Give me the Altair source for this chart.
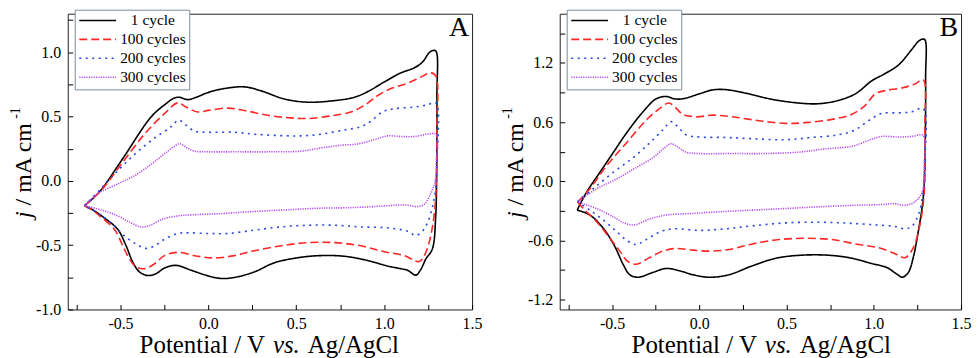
import altair as alt
import pandas as pd

SERIF = "Liberation Serif"
SERIES = ["1 cycle", "100 cycles", "200 cycles", "300 cycles"]
COLORS = ["#000000", "#ff2626", "#2a46e6", "#b54cf2"]
DASHES = [[1, 0], [8, 4], [2, 4.5], [1.2, 1.2]]
PANEL_LABELS = ["A", "B"]
X_TITLE = ["Potential / V", "vs.", "Ag/AgCl"]
Y_TITLE = ["j", "/ mA cm", "-1"]
X_TICKS = [-0.75, -0.5, -0.25, 0.0, 0.25, 0.5, 0.75, 1.0, 1.25, 1.5]
YA_TICKS = [-1.0, -0.75, -0.5, -0.25, 0.0, 0.25, 0.5, 0.75, 1.0, 1.25]
YB_TICKS = [-1.2, -0.9, -0.6, -0.3, 0.0, 0.3, 0.6, 0.9, 1.2, 1.5]

# ---------------- Panel A ----------------
A1_x = [-0.705, -0.62, -0.496, -0.326, -0.25, -0.193, -0.165, -0.117, -0.07, 0.0, 0.091, 0.205, 0.3, 0.432, 0.564, 0.716, 0.83, 0.905, 1.0, 1.095, 1.17, 1.218, 1.256, 1.275, 1.294,
        1.300, 1.298, 1.293, 1.274, 1.237, 1.208, 1.18,
        1.133, 1.095, 1.019, 0.905, 0.773, 0.64, 0.527, 0.375, 0.261, 0.148, 0.072, 0.0, -0.098, -0.184, -0.25, -0.297, -0.345, -0.392, -0.43, -0.468, -0.515, -0.591, -0.657, -0.705]
A1_y = [-0.193, -0.086, 0.155, 0.497, 0.591, 0.645, 0.65, 0.632, 0.65, 0.688, 0.718, 0.731, 0.70, 0.637, 0.612, 0.624, 0.65, 0.693, 0.769, 0.84, 0.878, 0.924, 0.997, 1.013, 1.01,
        0.66, 0.0, -0.277, -0.53, -0.607, -0.69, -0.733,
        -0.695, -0.683, -0.662, -0.619, -0.586, -0.581, -0.594, -0.637, -0.708, -0.751, -0.759, -0.739, -0.695, -0.657, -0.678, -0.721, -0.736, -0.708, -0.632, -0.505, -0.378, -0.289, -0.226, -0.193]

A100_x = [-0.705, -0.61, -0.496, -0.364, -0.25, -0.174, -0.127, -0.06, 0.0, 0.11, 0.205, 0.337, 0.47, 0.564, 0.697, 0.81, 0.886, 0.962, 1.038, 1.133, 1.208, 1.265, 1.294,
          1.3, 1.294, 1.275, 1.237, 1.199,
          1.114, 1.0, 0.867, 0.716, 0.564, 0.413, 0.261, 0.148, 0.034, -0.06, -0.174, -0.25, -0.307, -0.364, -0.411, -0.449, -0.487, -0.534, -0.61, -0.667, -0.705]
A100_y = [-0.193, -0.074, 0.129, 0.363, 0.523, 0.607, 0.574, 0.536, 0.548, 0.566, 0.548, 0.51, 0.49, 0.485, 0.505, 0.536, 0.586, 0.662, 0.718, 0.759, 0.807, 0.84, 0.815,
          0.41, -0.1, -0.353, -0.556, -0.627,
          -0.581, -0.551, -0.505, -0.48, -0.48, -0.505, -0.543, -0.581, -0.599, -0.586, -0.556, -0.581, -0.645, -0.683, -0.67, -0.607, -0.505, -0.378, -0.282, -0.221, -0.193]

A200_x = [-0.705, -0.62, -0.534, -0.42, -0.307, -0.212, -0.169, -0.127, -0.08, 0.0, 0.148, 0.261, 0.394, 0.527, 0.64, 0.773, 0.867, 0.924, 0.99, 1.057, 1.17, 1.246, 1.294,
          1.3, 1.294, 1.275, 1.246, 1.218, 1.18,
          1.133, 1.019, 0.867, 0.716, 0.564, 0.413, 0.261, 0.11, 0.0, -0.117, -0.174, -0.25, -0.307, -0.354, -0.411, -0.477, -0.553, -0.629, -0.705]
A200_y = [-0.193, -0.074, 0.053, 0.206, 0.332, 0.421, 0.472, 0.434, 0.388, 0.378, 0.378, 0.363, 0.353, 0.35, 0.363, 0.396, 0.421, 0.464, 0.536, 0.561, 0.574, 0.591, 0.607,
          0.155, -0.048, -0.2, -0.327, -0.391, -0.424,
          -0.391, -0.365, -0.358, -0.345, -0.345, -0.358, -0.383, -0.409, -0.409, -0.404, -0.409, -0.454, -0.505, -0.525, -0.492, -0.429, -0.327, -0.251, -0.193]

A300_x = [-0.705, -0.629, -0.515, -0.42, -0.326, -0.25, -0.193, -0.165, -0.127, -0.08, 0.0, 0.148, 0.337, 0.527, 0.64, 0.754, 0.848, 0.943, 1.019, 1.095, 1.17, 1.246, 1.294,
          1.297, 1.29, 1.264, 1.23, 1.19,
          1.133, 1.076, 1.0, 0.81, 0.621, 0.432, 0.242, 0.053, -0.098, -0.174, -0.269, -0.335, -0.383, -0.439, -0.515, -0.61, -0.705]
A300_y = [-0.193, -0.099, -0.023, 0.041, 0.129, 0.211, 0.269, 0.289, 0.261, 0.231, 0.226, 0.226, 0.226, 0.231, 0.256, 0.277, 0.287, 0.32, 0.35, 0.345, 0.345, 0.363, 0.363,
          0.155, 0.0, -0.1, -0.18, -0.2,
          -0.188, -0.188, -0.195, -0.208, -0.213, -0.226, -0.239, -0.256, -0.264, -0.272, -0.302, -0.348, -0.358, -0.327, -0.272, -0.226, -0.193]

# ---------------- Panel B ----------------
B1_x = [-0.70, -0.646, -0.57, -0.494, -0.418, -0.323, -0.247, -0.19, -0.143, -0.095, 0.0, 0.076, 0.152, 0.266, 0.418, 0.57, 0.684, 0.798, 0.894, 0.989, 1.065, 1.141, 1.217, 1.255, 1.278, 1.293,
        1.297, 1.293, 1.283, 1.255, 1.226, 1.198, 1.163,
        1.131, 1.074, 0.989, 0.856, 0.722, 0.57, 0.437, 0.304, 0.171, 0.057, -0.038, -0.114, -0.19, -0.266, -0.352, -0.399, -0.437, -0.485, -0.551, -0.627, -0.70]
B1_y = [-0.292, -0.11, 0.09, 0.289, 0.488, 0.704, 0.837, 0.86, 0.837, 0.837, 0.887, 0.927, 0.93, 0.894, 0.831, 0.794, 0.787, 0.821, 0.887, 1.02, 1.093, 1.179, 1.336, 1.419, 1.442, 1.435,
        1.053, 0.223, -0.176, -0.508, -0.774, -0.924, -0.973,
        -0.94, -0.874, -0.834, -0.774, -0.748, -0.751, -0.781, -0.857, -0.947, -0.973, -0.947, -0.907, -0.884, -0.924, -0.973, -0.947, -0.841, -0.658, -0.475, -0.342, -0.292]

B100_x = [-0.698, -0.627, -0.532, -0.418, -0.304, -0.228, -0.175, -0.14, -0.095, -0.019, 0.076, 0.19, 0.342, 0.494, 0.608, 0.76, 0.875, 0.951, 1.008, 1.065, 1.16, 1.236, 1.283,
          1.293, 1.289, 1.264, 1.226, 1.179,
          1.122, 1.027, 0.913, 0.76, 0.608, 0.456, 0.304, 0.171, 0.057, -0.038, -0.133, -0.209, -0.285, -0.361, -0.409, -0.456, -0.513, -0.589, -0.665, -0.698]
B100_y = [-0.209, -0.076, 0.156, 0.389, 0.621, 0.738, 0.794, 0.754, 0.681, 0.654, 0.671, 0.654, 0.615, 0.588, 0.595, 0.628, 0.681, 0.771, 0.887, 0.92, 0.947, 0.987, 1.03,
          0.555, -0.11, -0.442, -0.674, -0.774,
          -0.734, -0.674, -0.641, -0.591, -0.578, -0.591, -0.635, -0.691, -0.708, -0.698, -0.681, -0.708, -0.774, -0.841, -0.814, -0.708, -0.575, -0.409, -0.276, -0.209]

B200_x = [-0.698, -0.608, -0.494, -0.38, -0.285, -0.209, -0.162, -0.124, -0.076, 0.0, 0.152, 0.304, 0.494, 0.646, 0.798, 0.894, 0.97, 1.046, 1.141, 1.217, 1.283,
          1.293, 1.283, 1.255, 1.217, 1.179,
          1.122, 1.008, 0.856, 0.684, 0.494, 0.304, 0.152, 0.0, -0.152, -0.228, -0.304, -0.361, -0.409, -0.475, -0.551, -0.627, -0.698]
B200_y = [-0.209, -0.076, 0.09, 0.239, 0.389, 0.522, 0.605, 0.555, 0.472, 0.449, 0.445, 0.432, 0.422, 0.445, 0.472, 0.522, 0.615, 0.688, 0.694, 0.704, 0.738,
          0.223, -0.11, -0.342, -0.458, -0.482,
          -0.458, -0.442, -0.425, -0.415, -0.422, -0.452, -0.482, -0.498, -0.482, -0.515, -0.591, -0.641, -0.608, -0.508, -0.392, -0.292, -0.209]

B300_x = [-0.698, -0.589, -0.475, -0.361, -0.266, -0.2, -0.162, -0.124, -0.076, 0.0, 0.19, 0.38, 0.57, 0.722, 0.875, 0.97, 1.046, 1.141, 1.217, 1.283,
          1.289, 1.283, 1.255, 1.217, 1.169,
          1.122, 1.046, 0.894, 0.684, 0.494, 0.304, 0.114, -0.038, -0.19, -0.285, -0.371, -0.428, -0.494, -0.589, -0.698]
B300_y = [-0.209, -0.076, 0.023, 0.14, 0.239, 0.339, 0.382, 0.349, 0.296, 0.282, 0.282, 0.282, 0.296, 0.329, 0.355, 0.415, 0.455, 0.449, 0.455, 0.465,
          0.156, -0.076, -0.176, -0.226, -0.243,
          -0.226, -0.236, -0.243, -0.259, -0.276, -0.292, -0.309, -0.326, -0.342, -0.382, -0.442, -0.425, -0.359, -0.276, -0.209]


def build(curves):
    rows = []
    for name, xs, ys in curves:
        for i, (xv, yv) in enumerate(zip(xs, ys)):
            rows.append({"series": name, "idx": i, "x": xv, "y": yv})
    return pd.DataFrame(rows)


dfA = build([(SERIES[0], A1_x, A1_y), (SERIES[1], A100_x, A100_y),
             (SERIES[2], A200_x, A200_y), (SERIES[3], A300_x, A300_y)])
dfB = build([(SERIES[0], B1_x, B1_y), (SERIES[1], B100_x, B100_y),
             (SERIES[2], B200_x, B200_y), (SERIES[3], B300_x, B300_y)])


def lab_expr(mult):
    return ("abs(datum.value/%s - round(datum.value/%s)) < 0.001 ? "
            "(datum.value < -0.0001 ? '-' : '') + format(abs(datum.value), '.1f') : ''" % (mult, mult))


def panel(df, ydom, yticks, ymult, letter, W, H):
    legend = alt.Legend(
        title=None, orient="none", legendX=7, legendY=-4,
        fillColor="white", strokeColor="#7d8a99", padding=3,
        labelFont=SERIF, labelFontSize=15.5, labelColor="black",
        symbolType="M-1,0H5", symbolSize=152, symbolStrokeWidth=1.6,
        rowPadding=2, labelOffset=60, labelAlign="center",
    )
    xaxis = alt.Axis(values=X_TICKS, labelExpr=lab_expr(0.5), title=None, grid=False,
                     domain=False, tickSize=5, offset=-5, tickColor="black",
                     labelFont=SERIF, labelFontSize=16, labelColor="black",
                     labelPadding=6, labelFlush=False, labelOverlap=False)
    yaxis = alt.Axis(values=yticks, labelExpr=lab_expr(ymult), title=None, grid=False,
                     domain=False, tickSize=5, offset=-5, tickColor="black",
                     labelFont=SERIF, labelFontSize=16, labelColor="black",
                     labelPadding=7, labelFlush=False, labelOverlap=False)
    lines = alt.Chart(df).mark_line(strokeWidth=1.6, interpolate="catmull-rom").encode(
        x=alt.X("x:Q", scale=alt.Scale(domain=[-0.8, 1.5], nice=False, zero=False), axis=xaxis),
        y=alt.Y("y:Q", scale=alt.Scale(domain=ydom, nice=False, zero=False), axis=yaxis),
        color=alt.Color("series:N", scale=alt.Scale(domain=SERIES, range=COLORS), legend=legend),
        strokeDash=alt.StrokeDash("series:N", scale=alt.Scale(domain=SERIES, range=DASHES), legend=legend),
        order="idx:Q",
    )
    one = pd.DataFrame({"t": [letter]})
    letter_mark = alt.Chart(one).mark_text(
        text=letter, font=SERIF, fontSize=28, align="right", baseline="alphabetic", color="black"
    ).encode(x=alt.value(W - 3), y=alt.value(22))
    cy = H / 2.0
    P = cy + 50
    xt_base = H + 44
    xt1 = alt.Chart(one).mark_text(text=X_TITLE[0], font=SERIF, fontSize=25, align="right",
                                   baseline="alphabetic", color="black").encode(
        x=alt.value(198), y=alt.value(xt_base))
    xt2 = alt.Chart(one).mark_text(text=X_TITLE[1], font=SERIF, fontSize=25, fontStyle="italic",
                                   align="left", baseline="alphabetic", color="black").encode(
        x=alt.value(206), y=alt.value(xt_base))
    xt3 = alt.Chart(one).mark_text(text=X_TITLE[2], font=SERIF, fontSize=25, align="left",
                                   baseline="alphabetic", color="black").encode(
        x=alt.value(241), y=alt.value(xt_base))
    yt1 = alt.Chart(one).mark_text(text=Y_TITLE[0], font=SERIF, fontSize=24, fontStyle="italic",
                                   angle=270, align="right", baseline="alphabetic", color="black").encode(
        x=alt.value(-37), y=alt.value(P))
    yt2 = alt.Chart(one).mark_text(text=Y_TITLE[1], font=SERIF, fontSize=24,
                                   angle=270, align="left", baseline="alphabetic", color="black").encode(
        x=alt.value(-37), y=alt.value(P - 6))
    yt3 = alt.Chart(one).mark_text(text=Y_TITLE[2], font=SERIF, fontSize=14,
                                   angle=270, align="left", baseline="alphabetic", color="black").encode(
        x=alt.value(-48), y=alt.value(P - 93))
    return alt.layer(lines, letter_mark, xt1, xt2, xt3, yt1, yt2, yt3).properties(width=W, height=H)


H = 297
pA = panel(dfA, [-1.0, 1.3], YA_TICKS, 0.5, PANEL_LABELS[0], 406, H)
pB = panel(dfB, [-1.3, 1.7], YB_TICKS, 0.6, PANEL_LABELS[1], 403, H)

chart = (
    alt.hconcat(pA, pB, spacing=88, bounds="flush")
    .resolve_scale(x="independent", y="independent", color="independent", strokeDash="independent")
    .resolve_legend(color="independent", strokeDash="independent")
    .properties(padding={"left": 0, "top": 0, "right": 0, "bottom": 0})
    .configure(font=SERIF)
    .configure_axis(labelFont=SERIF, labelFontSize=16, labelColor="black")
    .configure_legend(labelFont=SERIF, labelFontSize=15.5, labelColor="black")
    .configure_view(stroke="#222222", strokeWidth=1)
)

chart.save("out.html", embed_options={"renderer": "svg", "actions": False})
